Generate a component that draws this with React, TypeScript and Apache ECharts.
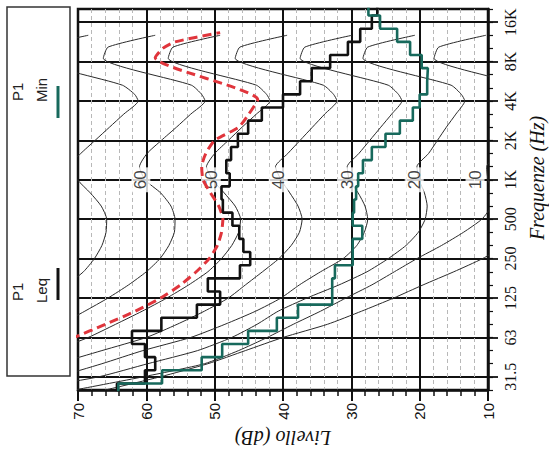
import React, { useEffect, useRef } from 'react';
import * as echarts from 'echarts';

// third-octave bands (index = position on the frequency axis)
const bandNames = ['25', '31.5', '40', '50', '63', '80', '100', '125', '160', '200', '250', '315', '400', '500', '630', '800', '1K', '1.25K', '1.6K', '2K', '2.5K', '3.15K', '4K', '5K', '6.3K', '8K', '10K', '12.5K', '16K', '20K'];
const octaveBands = ['31.5', '63', '125', '250', '500', '1K', '2K', '4K', '8K', '16K'];

// measured spectra, dB per third-octave band
const leqLevels = [64.3, 60.2, 58.7, 60.2, 62.1, 57.8, 52.6, 49.2, 51.0, 46.3, 44.8, 45.8, 46.4, 47.4, 48.8, 49.0, 47.8, 48.3, 47.6, 46.6, 45.1, 43.1, 40.0, 37.5, 35.8, 33.1, 30.5, 28.7, 27.0, 26.2];
const minLevels = [64.1, 57.7, 51.9, 48.9, 45.1, 40.9, 37.8, 32.8, 32.8, 32.4, 29.8, 29.8, 28.4, 29.8, 29.6, 29.3, 29.0, 28.3, 27.0, 25.0, 22.9, 21.0, 20.0, 18.9, 18.8, 19.7, 21.4, 23.3, 25.8, 27.5];

// red dashed reference curve: band position / level
const redIdx = [3.9, 5, 6, 7, 8, 9, 10, 11, 12, 13, 14, 15, 16, 17, 18, 19, 20, 21, 22.1, 25.3, 26.0, 26.5, 27.2];
const redLvl = [71, 66, 61.6, 57.9, 55.0, 52.7, 50.8, 49.6, 49.0, 48.8, 49.4, 50.6, 51.7, 51.9, 51.3, 50.0, 46.5, 45.0, 43.7, 58.7, 57.6, 55.8, 49.2];

// equal-loudness contours: band positions and levels per contour
const contourIdx = [0, 1, 2, 3, 4, 5, 6, 7, 8, 9, 10, 11, 12, 13, 14, 15, 16, 17, 18, 19, 20, 21, 22, 22.5, 23.2, 25.25, 26.1, 27];
const phon70 = [105, 98, 92, 87, 83, 79.5, 76.5, 74, 71.6, 69.2, 67.6, 66.5, 65.9, 65.8, 66.6, 68.2, 70.1, 71.4, 69.6, 67.5, 65.4, 63.3, 61.2, 61.7, 63.5, 76.1, 75.4, 68.5];
const phon60 = [98, 91, 85, 80, 76, 72.5, 69, 65.6, 62.6, 60, 58, 56.7, 55.9, 55.8, 56.4, 57.9, 60.2, 61.0, 59.9, 57.8, 55.6, 53.5, 51.4, 51.9, 53.4, 66.3, 65.6, 58.7];
const phon50 = [92, 85, 79, 73.5, 68.5, 64.5, 60.6, 57, 53.8, 51, 49, 47.5, 46.5, 46.2, 47, 48.6, 50.3, 51.2, 50.0, 48.0, 46.0, 43.9, 41.9, 42.4, 43.9, 56.8, 56.1, 49.2];
const phon40 = [86, 79, 73, 66.5, 60, 55.5, 51.5, 48, 45.5, 43, 40.6, 38.8, 37.6, 37.2, 37.8, 39, 40.3, 41.1, 39.3, 37.5, 35.7, 33.9, 32.1, 32.6, 34.1, 47.0, 46.3, 39.4];
const phon30 = [80, 73, 66.5, 60.5, 53.5, 48.5, 44, 40.3, 37.6, 34.5, 31.2, 29.2, 28.1, 27.6, 28, 29, 30.3, 30.6, 28.9, 27.3, 25.7, 24.1, 22.6, 23.1, 24.6, 37.5, 36.8, 29.9];
const phon20 = [78, 67, 59.8, 52.5, 47.5, 43.8, 40.7, 36.5, 31.8, 27.7, 24.6, 22, 20.2, 19.2, 18.9, 19.3, 20.1, 20.4, 18.7, 17.4, 16.1, 14.7, 13.4, 13.9, 15.4, 28.3, 27.6, 20.7];
const phon10 = [70.5, 60.5, 51.5, 46.5, 42.3, 38.5, 34.5, 30.8, 27, 23.7, 20.4, 16.8, 13.6, 10.9, 9.5, 9.3, 10, 10.2, 8.5, 7, 5.5, 4, 3, 3.5, 5, 17.9, 17.2, 10.3];
const threshold = [66, 58, 51, 45.5, 40, 33.5, 28.5, 23.8, 19.5, 15, 10.8, 7.5, 5];

// contour labels (level, band position, text)
const contourLabelLvl = [60.8, 50.5, 40.7, 30.6, 20.8, 11.9];
const contourLabelText = ['60', '50', '40', '30', '20', '10'];
const contourLabelBand = 16;

const contours = [phon70, phon60, phon50, phon40, phon30, phon20, phon10, threshold];

function stepPoints(levels: number[]) {
  const pts: number[][] = [];
  levels.forEach((v, i) => {
    pts.push([v, i - 0.5]);
    pts.push([v, i + 0.5]);
  });
  return pts;
}

const isOctave = (_i: number, v: string) => octaveBands.includes(v);

export default function App() {
  const ref = useRef<HTMLDivElement>(null);
  useEffect(() => {
    const chart = echarts.init(ref.current!, null, { renderer: 'svg' });
    const contourSeries = contours.map((arr) => ({
      type: 'line',
      yAxisIndex: 2,
      data: arr.map((v, i) => [v, contourIdx[i]]),
      symbol: 'none',
      smooth: 0.2,
      silent: true,
      z: 2,
      lineStyle: { color: '#2a2a2a', width: 1 },
    }));
    const option: any = {
      animation: false,
      backgroundColor: '#fff',
      textStyle: { fontFamily: 'Liberation Sans' },
      grid: { left: 78, right: 61, top: 9, bottom: 61, show: true, borderColor: '#111', borderWidth: 2.5, containLabel: false },
      xAxis: {
        type: 'value', min: 10, max: 70, interval: 10, inverse: true,
        axisLine: { show: true, lineStyle: { color: '#111', width: 2.5 } },
        axisTick: { show: true, length: 11, lineStyle: { color: '#111', width: 2 } },
        minorTick: { show: true, splitNumber: 5, length: 6, lineStyle: { color: '#111', width: 1.5 } },
        axisLabel: { rotate: 90, margin: 13, fontSize: 15, color: '#111', fontFamily: 'Liberation Sans' },
        splitLine: { show: true, lineStyle: { color: '#111', width: 2 } },
        minorSplitLine: { show: true, lineStyle: { color: '#b8b8b8', width: 1, type: [4, 3] } },
      },
      yAxis: [
        {
          type: 'category', data: bandNames, boundaryGap: false, position: 'right',
          axisLine: { show: true, lineStyle: { color: '#111', width: 2.5 } },
          axisTick: { show: true, interval: 0, length: 5, lineStyle: { color: '#111', width: 1.2 } },
          axisLabel: { show: false },
          splitLine: { show: false },
        },
        {
          type: 'category', data: bandNames, boundaryGap: false, position: 'right',
          axisLine: { show: false },
          axisTick: { show: true, interval: isOctave, length: 10, lineStyle: { color: '#111', width: 1.8 } },
          axisLabel: { show: true, interval: isOctave, rotate: 90, margin: 14, fontSize: 16, fontFamily: 'Liberation Serif', color: '#111' },
          splitLine: { show: true, interval: isOctave, lineStyle: { color: '#111', width: 1.8 } },
        },
        { type: 'value', min: 0, max: 29, show: false },
      ],
      series: [
        ...contourSeries,
        {
          type: 'scatter',
          yAxisIndex: 2,
          symbolSize: 0.1,
          z: 3,
          silent: true,
          itemStyle: { color: 'transparent' },
          data: contourLabelLvl.map((v, i) => [v, contourLabelBand, contourLabelText[i]]),
          label: {
            show: true, position: 'inside', rotate: 90,
            formatter: (p: any) => p.value[2],
            fontSize: 17, color: '#111', fontFamily: 'Liberation Sans',
            backgroundColor: '#fff', padding: [1, 3],
          },
        },
        {
          type: 'line', yAxisIndex: 2, symbol: 'none', smooth: 0.2, z: 4, silent: true,
          data: redLvl.map((v, i) => [v, redIdx[i]]),
          lineStyle: { color: '#e0353c', width: 3, type: [9, 5] },
        },
        {
          type: 'line', yAxisIndex: 2, symbol: 'none', z: 5, silent: true, name: 'P1 Leq',
          data: stepPoints(leqLevels),
          lineStyle: { color: '#111', width: 2.6 },
        },
        {
          type: 'line', yAxisIndex: 2, symbol: 'none', z: 6, silent: true, name: 'P1 Min',
          data: stepPoints(minLevels),
          lineStyle: { color: '#17695c', width: 2.6 },
        },
      ],
      graphic: [
        { type: 'rect', shape: { x: 7, y: 7, width: 63, height: 369 }, style: { fill: 'none', stroke: '#333', lineWidth: 1.5 } },
        { type: 'text', x: 17, y: 101, rotation: Math.PI / 2, style: { text: 'P1', fontSize: 15, fontFamily: 'Liberation Sans', fill: '#222', align: 'left', verticalAlign: 'middle' } },
        { type: 'text', x: 41, y: 102, rotation: Math.PI / 2, style: { text: 'Min', fontSize: 15, fontFamily: 'Liberation Sans', fill: '#222', align: 'left', verticalAlign: 'middle' } },
        { type: 'line', shape: { x1: 58, y1: 86, x2: 58, y2: 118 }, style: { stroke: '#17695c', lineWidth: 3 } },
        { type: 'text', x: 17, y: 301, rotation: Math.PI / 2, style: { text: 'P1', fontSize: 15, fontFamily: 'Liberation Sans', fill: '#222', align: 'left', verticalAlign: 'middle' } },
        { type: 'text', x: 41, y: 303, rotation: Math.PI / 2, style: { text: 'Leq', fontSize: 15, fontFamily: 'Liberation Sans', fill: '#222', align: 'left', verticalAlign: 'middle' } },
        { type: 'line', shape: { x1: 58, y1: 268, x2: 58, y2: 300 }, style: { stroke: '#111', lineWidth: 3 } },
        { type: 'text', x: 537, y: 178, rotation: Math.PI / 2, style: { text: 'Frequenze (Hz)', fontSize: 20, fontStyle: 'italic', fontFamily: 'Liberation Serif', fill: '#111', align: 'center', verticalAlign: 'middle' } },
        { type: 'text', x: 283, y: 438, rotation: Math.PI, style: { text: 'Livello (dB)', fontSize: 20, fontStyle: 'italic', fontFamily: 'Liberation Serif', fill: '#111', align: 'center', verticalAlign: 'middle' } },
      ],
    };
    chart.setOption(option);
    return () => chart.dispose();
  }, []);
  return <div ref={ref} style={{ position: 'fixed', left: 0, top: 0, width: 549, height: 451, background: '#fff' }} />;
}
